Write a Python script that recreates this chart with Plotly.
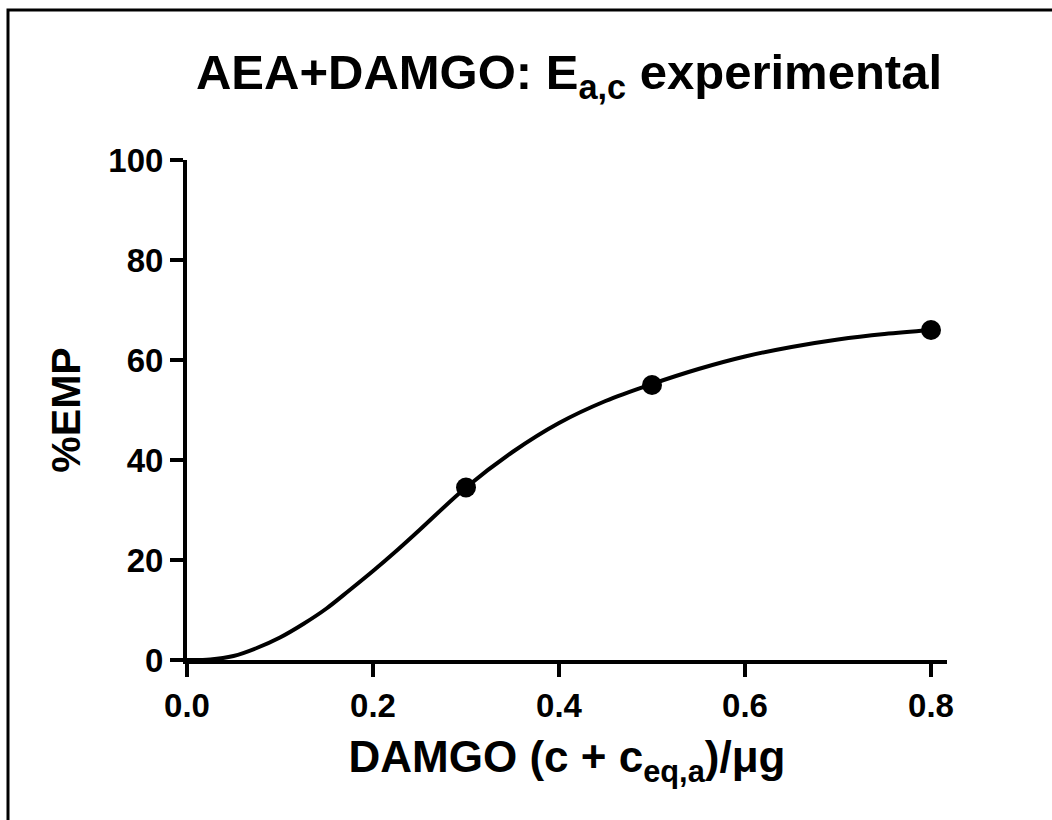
import plotly.graph_objects as go

# Measured data points
dose_x = [0.3, 0.5, 0.8]
emp_y = [34.5, 55.0, 66.0]

# Fitted curve
curve_x = [0.0, 0.025, 0.05, 0.075, 0.1, 0.125, 0.15, 0.175, 0.2, 0.225, 0.25,
           0.3, 0.35, 0.4, 0.45, 0.5, 0.55, 0.6, 0.65, 0.7, 0.75, 0.8]
curve_y = [0.0, 0.1, 0.8, 2.4, 4.5, 7.2, 10.3, 14.0, 17.8, 21.8, 26.0,
           34.5, 41.6, 47.4, 51.8, 55.2, 58.2, 60.7, 62.6, 64.1, 65.2, 66.0]

x_ticks = [0.0, 0.2, 0.4, 0.6, 0.8]
x_tick_labels = ["0.0", "0.2", "0.4", "0.6", "0.8"]
y_ticks = [0, 20, 40, 60, 80, 100]
y_tick_labels = ["0", "20", "40", "60", "80", "100"]

W, H = 1052, 820
L, R, T, B = 187, 105, 160, 160
FONT = "Liberation Sans, Arial, sans-serif"

fig = go.Figure()
fig.add_trace(go.Scatter(x=curve_x, y=curve_y, mode="lines",
                         line=dict(color="black", width=4, shape="spline"),
                         hoverinfo="skip", cliponaxis=False))
fig.add_trace(go.Scatter(x=dose_x, y=emp_y, mode="markers",
                         marker=dict(color="black", size=20), cliponaxis=False))

pw = W - L - R
ph = H - T - B
def px_to_paper_x(px):
    return (px - L) / pw
def px_to_paper_y(py):
    return (H - B - py) / ph

# outer border (right/bottom edges lie outside the visible page)
fig.add_shape(type="rect", xref="paper", yref="paper",
              x0=px_to_paper_x(8), x1=px_to_paper_x(1060),
              y0=px_to_paper_y(830), y1=px_to_paper_y(10),
              line=dict(color="black", width=3), layer="below")

fig.update_layout(
    width=W, height=H,
    margin=dict(l=L, r=R, t=T, b=B, autoexpand=False),
    paper_bgcolor="white", plot_bgcolor="white",
    showlegend=False,
    font=dict(family=FONT, color="black"),
    title=dict(text="<b>AEA+DAMGO: E<sub>a,c</sub> experimental</b>",
               x=569 / W, xanchor="center", xref="container",
               y=1 - 72 / H, yanchor="middle", yref="container",
               font=dict(size=49, family=FONT, color="black")),
    xaxis=dict(range=[0, (947 - L) / 930], tickvals=x_ticks, ticktext=x_tick_labels,
               showgrid=False, zeroline=False, showline=True, linecolor="black", linewidth=4,
               ticks="outside", ticklen=13, tickwidth=4, tickcolor="black",
               tickfont=dict(size=33, family=FONT, color="black", weight="bold"),
               title=dict(text="<b>DAMGO (c + c<sub>eq,a</sub>)/μg</b>",
                          font=dict(size=44, family=FONT, color="black"), standoff=20)),
    yaxis=dict(range=[0, 100], tickvals=y_ticks, ticktext=y_tick_labels,
               showgrid=False, zeroline=False, showline=True, linecolor="black", linewidth=4,
               ticks="outside", ticklen=13, tickwidth=4, tickcolor="black",
               tickfont=dict(size=33, family=FONT, color="black", weight="bold"),
               title=dict(text="<b>%EMP</b>",
                          font=dict(size=41, family=FONT, color="black"), standoff=16)),
)

fig.write_html("out.html", config={"displayModeBar": False},
               post_script="document.body.style.margin='0';document.body.style.padding='0';")
